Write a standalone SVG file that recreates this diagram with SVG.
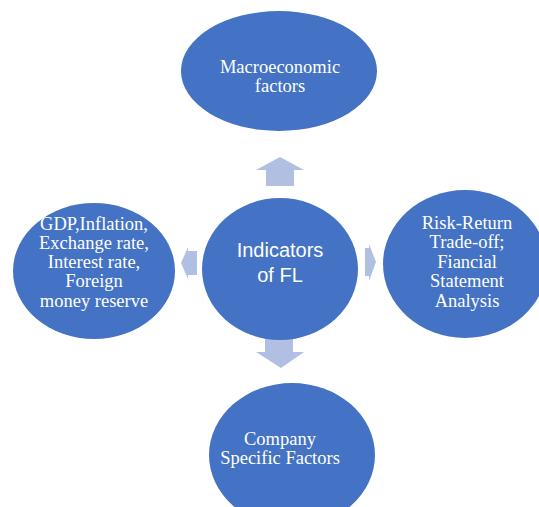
<svg xmlns="http://www.w3.org/2000/svg" width="539" height="507" viewBox="0 0 539 507">
<style>
.node{fill:#4472C4}
.t{fill:#FFFFFF;font-family:"Liberation Serif","Times New Roman",serif;font-size:18.5px;text-anchor:middle}
.s{fill:#FFFFFF;font-family:"Liberation Sans",Arial,sans-serif;font-size:20px;text-anchor:middle}
.arr{fill:#B1BFE2}
</style>
<rect width="539" height="507" fill="#FFFFFF"/>
<g id="connectors">
<polygon class="arr" points="280,157 304,170 294,170 294,186 266,186 266,170 256,170"/>
<polygon class="arr" points="265,339 293,339 293,352 304,352 281,368 256,352 265,352"/>
<polygon class="arr" points="181,263 188,247 188,251 197,251 197,275 188,275 188,279"/>
<polygon class="arr" points="376,262 369,281 369,276 365,276 365,248 369,248 369,244"/>
</g>
<g id="macro">
<ellipse class="node" cx="279" cy="71" rx="98" ry="60"/>
<text class="t" x="280" y="73">Macroeconomic</text>
<text class="t" x="280" y="92">factors</text>
</g>
<g id="indicators">
<ellipse class="node" cx="280" cy="269" rx="78" ry="71"/>
<text class="s" x="280" y="257">Indicators</text>
<text class="s" x="280" y="282">of FL</text>
</g>
<g id="gdp">
<ellipse class="node" cx="94" cy="271" rx="81" ry="68"/>
<text class="t" x="94" y="230">GDP,Inflation,</text>
<text class="t" x="94" y="249">Exchange rate,</text>
<text class="t" x="94" y="268">Interest rate,</text>
<text class="t" x="94" y="287">Foreign</text>
<text class="t" x="94" y="307">money reserve</text>
</g>
<g id="risk">
<ellipse class="node" cx="465" cy="264" rx="82" ry="74"/>
<text class="t" x="467" y="229">Risk-Return</text>
<text class="t" x="467" y="248">Trade-off;</text>
<text class="t" x="467" y="268">Fiancial</text>
<text class="t" x="467" y="287">Statement</text>
<text class="t" x="467" y="307">Analysis</text>
</g>
<g id="company">
<ellipse class="node" cx="292" cy="455" rx="83" ry="72"/>
<text class="t" x="280" y="445">Company</text>
<text class="t" x="280" y="464">Specific Factors</text>
</g>
</svg>
